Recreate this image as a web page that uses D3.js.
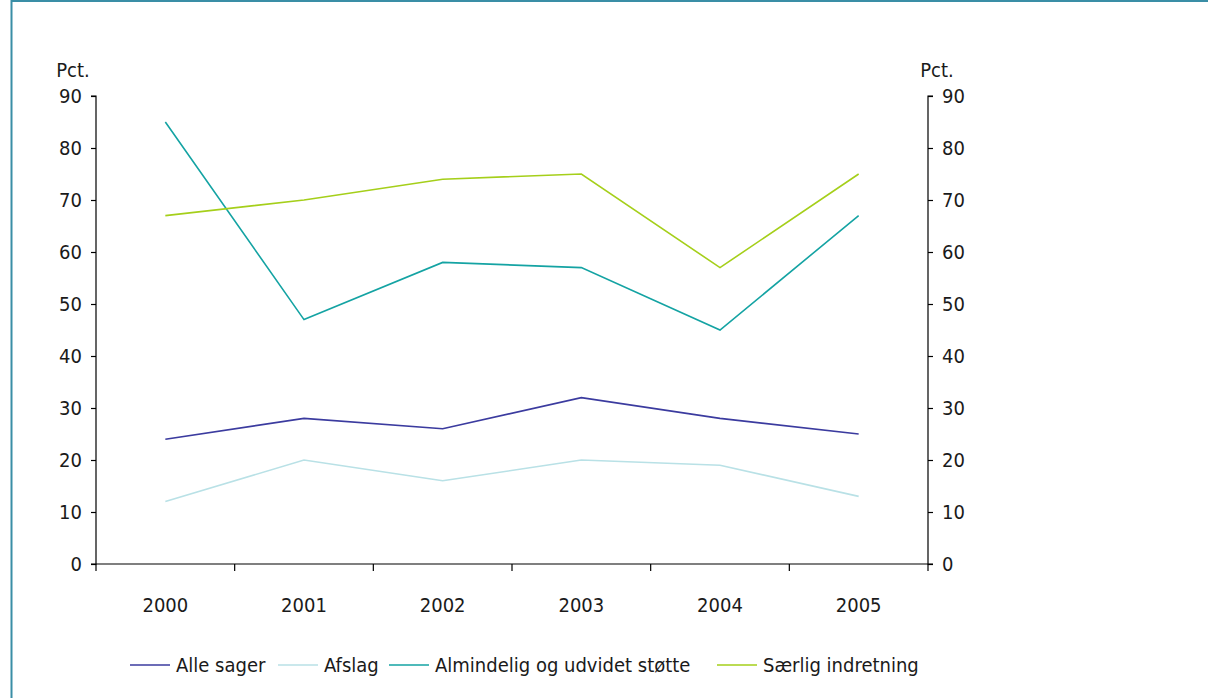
<!DOCTYPE html>
<html><head><meta charset="utf-8">
<script src="https://cdn.jsdelivr.net/npm/d3@7"></script>
<style>
html,body{margin:0;padding:0;background:#fff;}
svg text{font-family:"DejaVu Sans Condensed","DejaVu Sans",sans-serif;fill:#1a1a1a;font-size:20px;}
</style></head>
<body>
<svg id="c" width="1208" height="698"></svg>
<script>
const years = ["2000","2001","2002","2003","2004","2005"];
const alleSager = [24, 28, 26, 32, 28, 25];
const afslag = [12, 20, 16, 20, 19, 13];
const almindelig = [85, 47, 58, 57, 45, 67];
const saerlig = [67, 70, 74, 75, 57, 75];
const yTicks = [0,10,20,30,40,50,60,70,80,90];
const seriesNames = ["Alle sager","Afslag","Almindelig og udvidet støtte","Særlig indretning"];
const seriesColors = ["#3b3b9f","#b9e1e6","#14a3a3","#a5cf1a"];

const series = [alleSager, afslag, almindelig, saerlig].map((v,i)=>({name:seriesNames[i], color:seriesColors[i], values:v}));

const svg = d3.select("#c");
// frame
svg.append("line").attr("x1",11.5).attr("x2",11.5).attr("y1",0).attr("y2",698).attr("stroke","#3a8ea6").attr("stroke-width",2);
svg.append("line").attr("x1",11).attr("x2",1208).attr("y1",1).attr("y2",1).attr("stroke","#3a8ea6").attr("stroke-width",2);

const L=96, R=928, T=96, B=564;
const x = d3.scaleBand().domain(years).range([L,R]);
const y = d3.scaleLinear().domain([0,90]).range([B,T]);

const yl = svg.append("g").attr("transform",`translate(${L},0)`).call(d3.axisLeft(y).tickValues(yTicks).tickSize(5).tickPadding(9));
const yr = svg.append("g").attr("transform",`translate(${R},0)`).call(d3.axisRight(y).tickValues(yTicks).tickSize(5).tickPadding(9));
[yl,yr].forEach(g=>{
  g.attr("font-size",null).attr("font-family",null);
  g.selectAll(".tick line").attr("stroke","#000").attr("stroke-width",1.2);
  g.selectAll(".tick text").attr("fill","#1a1a1a");
  g.select(".domain").attr("stroke","#000").attr("stroke-width",1.2);
});
yl.select(".domain").attr("d",`M-5,${T}H0V${B}H-5`);
yr.select(".domain").attr("d",`M5,${T}H0V${B}H5`);

// x axis
const xa = svg.append("g").attr("transform",`translate(0,${B})`);
xa.append("line").attr("x1",L).attr("x2",R).attr("stroke","#000").attr("stroke-width",1.2);
const bounds = years.map(d=>x(d)).concat([R]);
xa.selectAll(".bt").data(bounds).enter().append("line").attr("x1",d=>d).attr("x2",d=>d).attr("y1",0).attr("y2",7).attr("stroke","#000").attr("stroke-width",1.2);
xa.selectAll(".lab").data(years).enter().append("text").attr("x",d=>x(d)+x.bandwidth()/2).attr("y",48).attr("text-anchor","middle").text(d=>d);

svg.append("text").attr("x",73).attr("y",77).attr("text-anchor","middle").text("Pct.");
svg.append("text").attr("x",937).attr("y",77).attr("text-anchor","middle").text("Pct.");

const line = d3.line().x((d,i)=>x(years[i])+x.bandwidth()/2).y(d=>y(d));
svg.selectAll(".s").data(series).enter().append("path").attr("fill","none").attr("stroke",d=>d.color).attr("stroke-width",1.6).attr("d",d=>line(d.values));

// legend
const legX = [130, 278, 389, 717];
const lg = svg.selectAll(".lg").data(series).enter().append("g").attr("transform",(d,i)=>`translate(${legX[i]},665)`);
lg.append("line").attr("x1",0).attr("x2",40).attr("stroke",d=>d.color).attr("stroke-width",1.6);
lg.append("text").attr("x",46).attr("y",7).text(d=>d.name);
</script>
</body></html>
